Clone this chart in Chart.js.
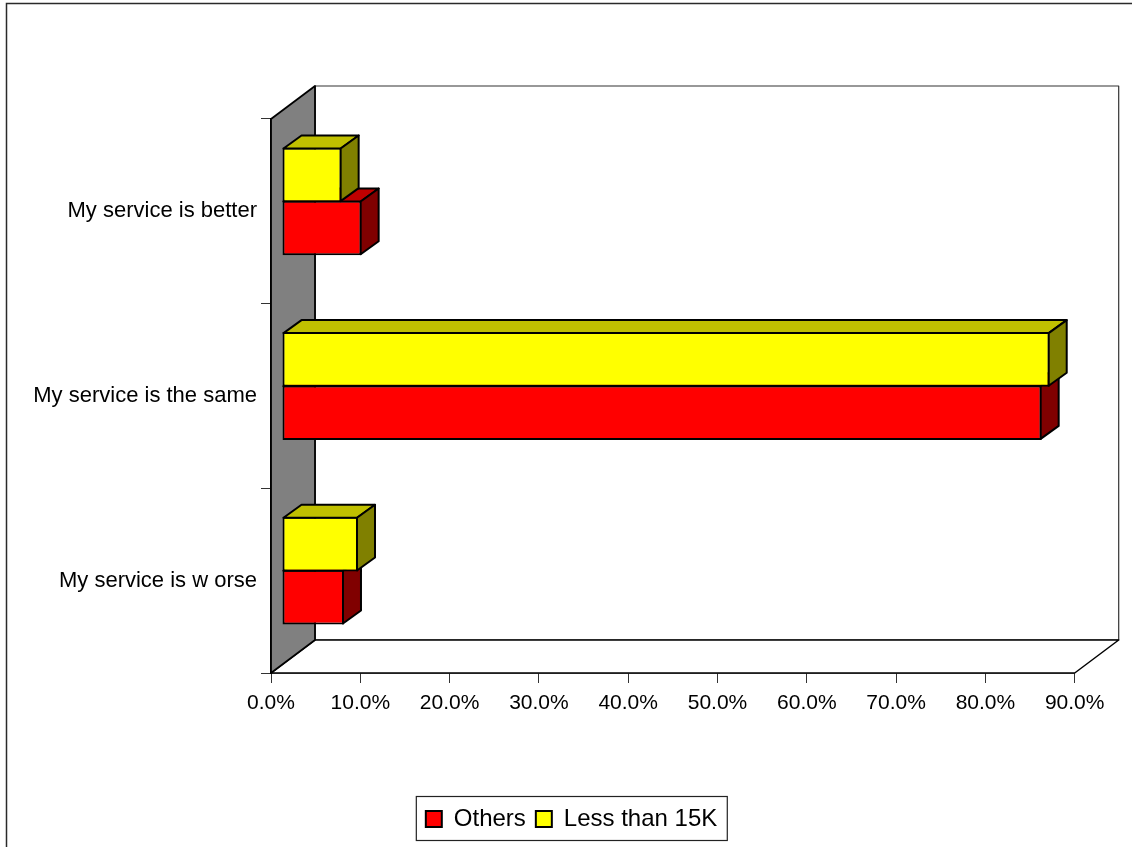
<!DOCTYPE html>
<html>
<head>
<meta charset="utf-8">
<title>Service comparison</title>
<script src="https://cdn.jsdelivr.net/npm/chart.js@4/dist/chart.umd.min.js"></script>
<style>
    html, body { margin: 0; padding: 0; background: #fff; }
    canvas { display: block; }
</style>
</head>
<body>
<canvas id="serviceChart" width="1132" height="847"></canvas>
<script>
const categories = ['My service is better', 'My service is the same', 'My service is w orse'];
const lessThan15k = [6.68, 85.97, 8.51];
const others = [8.92, 85.07, 6.94];
const xTicks = [0, 10, 20, 30, 40, 50, 60, 70, 80, 90];

// offsets for the fake 3D look, in px
const WALL_DX = 44, WALL_DY = -33;
const BAR_SHIFT_X = 11, BAR_SHIFT_Y = -10;
const BAR_DX = 18, BAR_DY = -13;
const LEGEND_SHIFT = 28.7;

function poly(ctx, pts, fill, lineWidth, stroke) {
    ctx.beginPath();
    pts.forEach((p, i) => i ? ctx.lineTo(p[0], p[1]) : ctx.moveTo(p[0], p[1]));
    ctx.closePath();
    if (fill) {
        ctx.fillStyle = fill;
        ctx.fill();
    }
    ctx.lineJoin = 'round';
    ctx.lineWidth = lineWidth;
    ctx.strokeStyle = stroke || '#000';
    ctx.stroke();
}

const box3d = {
    id: 'box3d',
    afterLayout(chart) {
        // key is centred on the page, not on the plot
        chart.legend.left += LEGEND_SHIFT;
        chart.legend.right += LEGEND_SHIFT;
    },
    beforeDraw(chart) {
        // outer frame, only top and left edges are on the page
        const ctx = chart.ctx;
        ctx.save();
        ctx.strokeStyle = '#2a2a2a';
        ctx.lineWidth = 1.5;
        ctx.beginPath();
        ctx.moveTo(6.5, 847);
        ctx.lineTo(6.5, 3.5);
        ctx.lineTo(1132, 3.5);
        ctx.stroke();
        ctx.restore();
    },
    beforeDatasetsDraw(chart) {
        const ctx = chart.ctx;
        const { left, right, top, bottom } = chart.chartArea;
        ctx.save();
        // back plane and floor
        poly(ctx, [[left + WALL_DX, top + WALL_DY], [right + WALL_DX, top + WALL_DY],
            [right + WALL_DX, bottom + WALL_DY], [left + WALL_DX, bottom + WALL_DY]], '#fff', 1.2, '#333');
        poly(ctx, [[left, bottom], [left + WALL_DX, bottom + WALL_DY],
            [right + WALL_DX, bottom + WALL_DY], [right, bottom]], '#fff', 1.5);
        // grey side wall
        poly(ctx, [[left, top], [left + WALL_DX, top + WALL_DY],
            [left + WALL_DX, bottom + WALL_DY], [left, bottom]], '#808080', 1.8);
        ctx.restore();
    },
    beforeDatasetDraw(chart) {
        chart.ctx.save();
        chart.ctx.translate(BAR_SHIFT_X, BAR_SHIFT_Y);
    },
    afterDatasetDraw(chart, args) {
        const ctx = chart.ctx;
        const ds = chart.data.datasets[args.index];
        args.meta.data.forEach(bar => {
            const p = bar.getProps(['x', 'y', 'base', 'height'], true);
            const x0 = p.base + 1, x1 = p.x - 1;
            const y0 = p.y - p.height / 2 + 1, y1 = p.y + p.height / 2 - 1;
            poly(ctx, [[x0, y0], [x0 + BAR_DX, y0 + BAR_DY], [x1 + BAR_DX, y0 + BAR_DY], [x1, y0]], ds.topColor, 2);
            poly(ctx, [[x1, y0], [x1 + BAR_DX, y0 + BAR_DY], [x1 + BAR_DX, y1 + BAR_DY], [x1, y1]], ds.sideColor, 2);
        });
        ctx.restore();
    },
    afterDraw(chart) {
        // box round the legend
        const boxes = chart.legend.legendHitBoxes;
        const ctx = chart.ctx;
        const l = boxes[0].left - 9.5;
        const last = boxes[boxes.length - 1];
        const r = last.left + last.width + 10;
        ctx.save();
        ctx.strokeStyle = '#222';
        ctx.lineWidth = 1.2;
        ctx.strokeRect(l, chart.legend.top - 0.5, r - l, chart.legend.height);
        ctx.restore();
    }
};

new Chart(document.getElementById('serviceChart'), {
    type: 'bar',
    plugins: [box3d],
    data: {
        labels: categories,
        datasets: [
            {
                label: 'Less than 15K',
                data: lessThan15k,
                backgroundColor: '#ffff00',
                topColor: '#c0c000',
                sideColor: '#808000',
                borderColor: '#000',
                borderWidth: 2,
                borderSkipped: false,
                clip: false
            },
            {
                label: 'Others',
                data: others,
                backgroundColor: '#ff0000',
                topColor: '#c00000',
                sideColor: '#800000',
                borderColor: '#000',
                borderWidth: 2,
                borderSkipped: false,
                clip: false
            }
        ]
    },
    options: {
        indexAxis: 'y',
        responsive: false,
        animation: false,
        barPercentage: 1.03,
        categoryPercentage: 0.575,
        layout: { padding: { left: 11, right: 57.3, top: 119, bottom: 6 } },
        plugins: {
            tooltip: { enabled: false },
            legend: {
                position: 'bottom',
                labels: {
                    color: '#000',
                    boxWidth: 16,
                    boxHeight: 16,
                    padding: 10,
                    font: { family: '"Liberation Sans", Arial, sans-serif', size: 24 },
                    // Others comes first in the key although it sits below
                    sort: (a, b) => b.datasetIndex - a.datasetIndex
                }
            }
        },
        scales: {
            x: {
                min: 0,
                max: 90,
                afterBuildTicks: axis => { axis.ticks = xTicks.map(v => ({ value: v })); },
                afterFit: axis => { axis.height = 124; },
                border: { color: '#000', width: 1.5 },
                grid: { drawOnChartArea: false, drawTicks: true, tickLength: 10, color: '#333' },
                ticks: {
                    color: '#000',
                    padding: 8,
                    maxRotation: 0,
                    autoSkip: false,
                    font: { family: '"Liberation Sans", Arial, sans-serif', size: 21 },
                    callback: v => v.toFixed(1) + '%'
                }
            },
            y: {
                afterFit: axis => { axis.width = 260; },
                border: { color: '#000', width: 1.5 },
                grid: { drawOnChartArea: false, drawTicks: true, tickLength: 10, color: '#333' },
                ticks: {
                    color: '#000',
                    padding: 4,
                    font: { family: '"Liberation Sans", Arial, sans-serif', size: 22 }
                }
            }
        }
    }
});
</script>
</body>
</html>
